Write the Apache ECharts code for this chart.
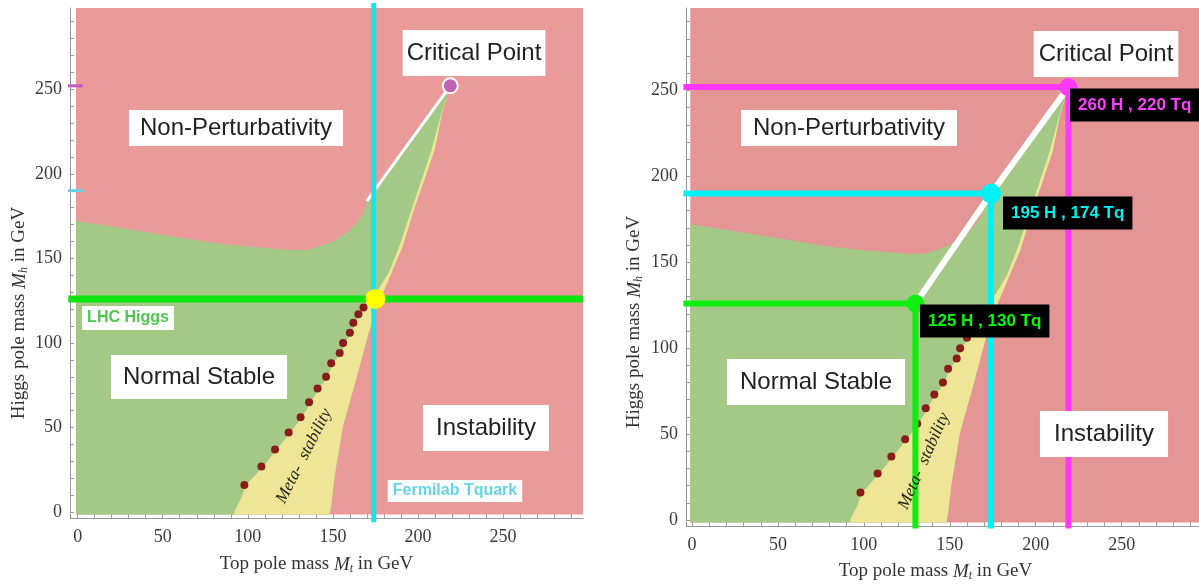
<!DOCTYPE html>
<html><head><meta charset="utf-8">
<script src="https://cdn.jsdelivr.net/npm/echarts@6/dist/echarts.min.js"></script>
<style>html,body{margin:0;padding:0;background:#fff}#c{width:1199px;height:584px}</style>
</head><body><div id="c"></div>
<script>
// ---------------- data ----------------
const xLabelValues = [0, 50, 100, 150, 200, 250];
const yLabelValues = [0, 50, 100, 150, 200, 250];
const minorTickValues = [0,10,20,30,40,50,60,70,80,90,100,110,120,130,140,150,160,170,180,190,200,210,220,230,240,250,260,270,280,290];

// region boundaries (Top mass Tq, Higgs mass H) in GeV
const plotRegion = [[-1,-1.5],[297,-1.5],[297,298],[-1,298]];
const perturbativityBoundary = [[-1,172],[0,172],[20,169],[50,164],[80,159],[100,157],[125,155],[135,155],[142,157],[150,160],[158,165],[164,171],[168,177],[170,184],[219,252]];
const stabilityLine = [[92,-1.5],[92,0],[96,8],[99,16],[109,27],[117,37],[125,47],[132,56],[137,65],[142,73],[147,80],[150,88],[155,94],[157,100],[161,106],[163,112],[166,117],[169,121],[173,127],[177,132],[183,142],[189,157],[196,178],[202,196],[208,214],[213,233],[219,252]];
const instabilityLine = [[219,252],[214,235],[210,215],[204,197],[198,180],[191,157],[183,138],[177,124],[171,106],[167,91],[163,76],[156,51],[151,21],[149,4],[148,-1.5]];
const boundaryDots = [[98,16],[108,27],[116,37],[124,47],[131,56],[136,65],[141,73],[146,80],[149,88],[154,94],[156,100],[160,106],[162,112],[165,117],[168,121]];

// measured / highlighted points
const lhcHiggs = 126;
const fermilabTop = 174;
const criticalPoint = [219, 252];
const higgsPoint = [130, 126];
const fermiPoint = [174, 190];
const leftAxisMarks = [252, 190];

const regionLabels = ['Critical Point', 'Non-Perturbativity', 'Normal Stable', 'Instability'];
const pointLabels = ['260 H , 220 Tq', '195 H , 174 Tq', '125 H , 130 Tq'];

// ---------------- chart ----------------
const PINK = '#e99a99', GREEN = '#a4c987', YELLOW = '#eee597';
const chart = echarts.init(document.getElementById('c'), null, {renderer: 'canvas'});

function poly(idx, pts, color, z) {
  return {type: 'custom', xAxisIndex: idx, yAxisIndex: idx, data: [0], silent: true, z: z, clip: true,
    renderItem: (p, api) => ({type: 'polygon', shape: {points: pts.map(q => api.coord(q))}, style: {fill: color}})};
}
function line(idx, pts, color, width, z) {
  return {type: 'line', xAxisIndex: idx, yAxisIndex: idx, data: pts, symbol: 'none', clip: false, silent: true, z: z,
    lineStyle: {color: color, width: width, cap: 'butt'}};
}
function dots(idx, pts, color, size, z, border) {
  return {type: 'scatter', xAxisIndex: idx, yAxisIndex: idx, data: pts, symbolSize: size, silent: true, z: z, clip: false,
    itemStyle: {color: color, borderColor: border || color, borderWidth: border ? 2 : 0, opacity: 1}};
}
const greenRegion = [[-1,-1.5]].concat(perturbativityBoundary, instabilityLine);
const yellowRegion = stabilityLine.concat(instabilityLine);

function panelSeries(idx) {
  return [
    poly(idx, plotRegion, idx ? '#e69595' : PINK, 1),
    poly(idx, greenRegion, GREEN, 2),
    poly(idx, yellowRegion, YELLOW, 3),
    dots(idx, boundaryDots, '#8a1c1a', 8, 4)
  ];
}

const titleRich = {
  i: {fontFamily: 'Liberation Serif', fontStyle: 'italic', fontSize: 19, color: '#333'},
  s: {fontFamily: 'Liberation Serif', fontStyle: 'italic', fontSize: 12, color: '#333', padding: [9, 0, 0, 0]}
};
function xAxis(idx, min, max, gap, shift) {
  return {gridIndex: idx, type: 'value', min: min, max: max,
    axisLine: {show: true, onZero: false, lineStyle: {color: '#9a9a9a', width: 1}},
    axisTick: {show: true, inside: true, length: 4, customValues: minorTickValues, lineStyle: {color: '#9a9a9a'}},
    axisLabel: {customValues: xLabelValues, margin: 10, fontFamily: 'Liberation Serif', fontSize: 18, color: '#3a3a3a'},
    splitLine: {show: false},
    name: 'Top pole mass {i|M}{s|t} in GeV', nameLocation: 'middle', nameGap: gap,
    nameTextStyle: {fontFamily: 'Liberation Serif', fontSize: 19, color: '#333', padding: [0, shift, 0, 0], rich: titleRich}
  };
}
function yAxis(idx, min, max, gap, shift) {
  return {gridIndex: idx, type: 'value', min: min, max: max,
    axisLine: {show: true, onZero: false, lineStyle: {color: '#9a9a9a', width: 1}},
    axisTick: {show: true, inside: true, length: 4, customValues: minorTickValues, lineStyle: {color: '#9a9a9a'}},
    axisLabel: {customValues: yLabelValues, margin: 8, fontFamily: 'Liberation Serif', fontSize: 18, color: '#3a3a3a'},
    splitLine: {show: false},
    name: 'Higgs pole mass {i|M}{s|h} in GeV', nameLocation: 'middle', nameGap: gap, nameRotate: 90,
    nameTextStyle: {fontFamily: 'Liberation Serif', fontSize: 19, color: '#333', padding: [0, shift, 0, 0], rich: titleRich}
  };
}

const series = [];
// left panel
series.push(...panelSeries(0));
series.push(line(0, [perturbativityBoundary[perturbativityBoundary.length - 2], criticalPoint], '#ffffff', 3, 5));
series.push(line(0, [[-5.5, lhcHiggs], [297, lhcHiggs]], '#10e410', 7, 6));
series.push(line(0, [[fermilabTop, -6], [fermilabTop, 301]], '#12e6ef', 5, 6));
series.push(line(0, [[-6, leftAxisMarks[0]], [3, leftAxisMarks[0]]], '#c05cc0', 3, 6));
series.push(line(0, [[-6, leftAxisMarks[1]], [3, leftAxisMarks[1]]], '#62cfe2', 3, 6));
series.push(dots(0, [[fermilabTop + 1, lhcHiggs]], '#ffff00', 20, 8));
series.push(dots(0, [criticalPoint], '#c062b4', 15, 8, '#ffffff'));
// right panel
series.push(...panelSeries(1));
series.push(line(1, [higgsPoint, fermiPoint, criticalPoint], '#ffffff', 6, 5));
series.push(line(1, [[-5, criticalPoint[1]], criticalPoint, [criticalPoint[0], -5]], '#ff38ff', 6, 6));
series.push(line(1, [[-5, fermiPoint[1]], fermiPoint, [fermiPoint[0], -5]], '#00f2f6', 6, 6));
series.push(line(1, [[-5, higgsPoint[1]], higgsPoint, [higgsPoint[0], -5]], '#10ee10', 6, 6));
series.push(dots(1, [criticalPoint], '#ff38ff', 18, 8));
series.push(dots(1, [fermiPoint], '#00f2f6', 20, 8));
series.push(dots(1, [higgsPoint], '#10ee10', 18, 8));

function box(x, y, text, pad, extra) {
  return {type: 'text', x: x, y: y, z: 100, silent: true,
    style: Object.assign({text: text, font: '24px "Liberation Sans"', fill: '#222', backgroundColor: '#ffffff',
      padding: pad, align: 'center', verticalAlign: 'middle', textAlign: 'center', textVerticalAlign: 'middle'}, extra || {})};
}
function tag(x, y, text, color) {
  return {type: 'text', x: x, y: y, z: 100, silent: true,
    style: {text: text, font: 'bold 17px "Liberation Sans"', fill: color, backgroundColor: '#000000',
      padding: [8, 8], align: 'left', verticalAlign: 'middle', textAlign: 'left', textVerticalAlign: 'middle'}};
}
function meta(x, y, deg) {
  return {type: 'text', x: x, y: y, z: 90, silent: true, rotation: deg * Math.PI / 180,
    style: {text: 'Meta-  stability', font: 'italic 17px "Liberation Serif"', fill: '#26261c',
      align: 'center', verticalAlign: 'middle', textAlign: 'center', textVerticalAlign: 'middle'}};
}

const graphics = [
  box(474, 53, regionLabels[0], [11, 4]),
  box(236, 128, regionLabels[1], [6, 11]),
  box(199, 377, regionLabels[2], [10, 12]),
  box(486, 428, regionLabels[3], [11, 13]),
  box(128, 318, 'LHC Higgs', [4, 5], {font: 'bold 16px "Liberation Sans"', fill: '#4cc94c'}),
  box(455, 491, 'Fermilab Tquark', [3, 5], {font: 'bold 16px "Liberation Sans"', fill: '#66d3e8'}),
  meta(304, 456, 63),
  box(1106, 54, regionLabels[0], [11, 5]),
  box(849, 128, regionLabels[1], [6, 12]),
  box(816, 382, regionLabels[2], [11, 13]),
  box(1104, 434, regionLabels[3], [11, 14]),
  meta(924, 461, 66),
  tag(1070, 105, pointLabels[0], '#ff40ff'),
  tag(1003, 213, pointLabels[1], '#00f2f2'),
  tag(920, 321, pointLabels[2], '#00ff00')
];

chart.setOption({
  animation: false,
  backgroundColor: '#ffffff',
  grid: [
    {left: 70, top: 8, width: 513, height: 510, outerBoundsMode: 'none', containLabel: false},
    {left: 686, top: 8, width: 513, height: 518, outerBoundsMode: 'none', containLabel: false}
  ],
  xAxis: [xAxis(0, -4.5, 297, 36, 20), xAxis(1, -3.5, 295, 35, 14)],
  yAxis: [yAxis(0, -3.5, 298, 40, 100), yAxis(1, -3.5, 298, 41, 110)],
  series: series,
  graphic: graphics
});
</script></body></html>
